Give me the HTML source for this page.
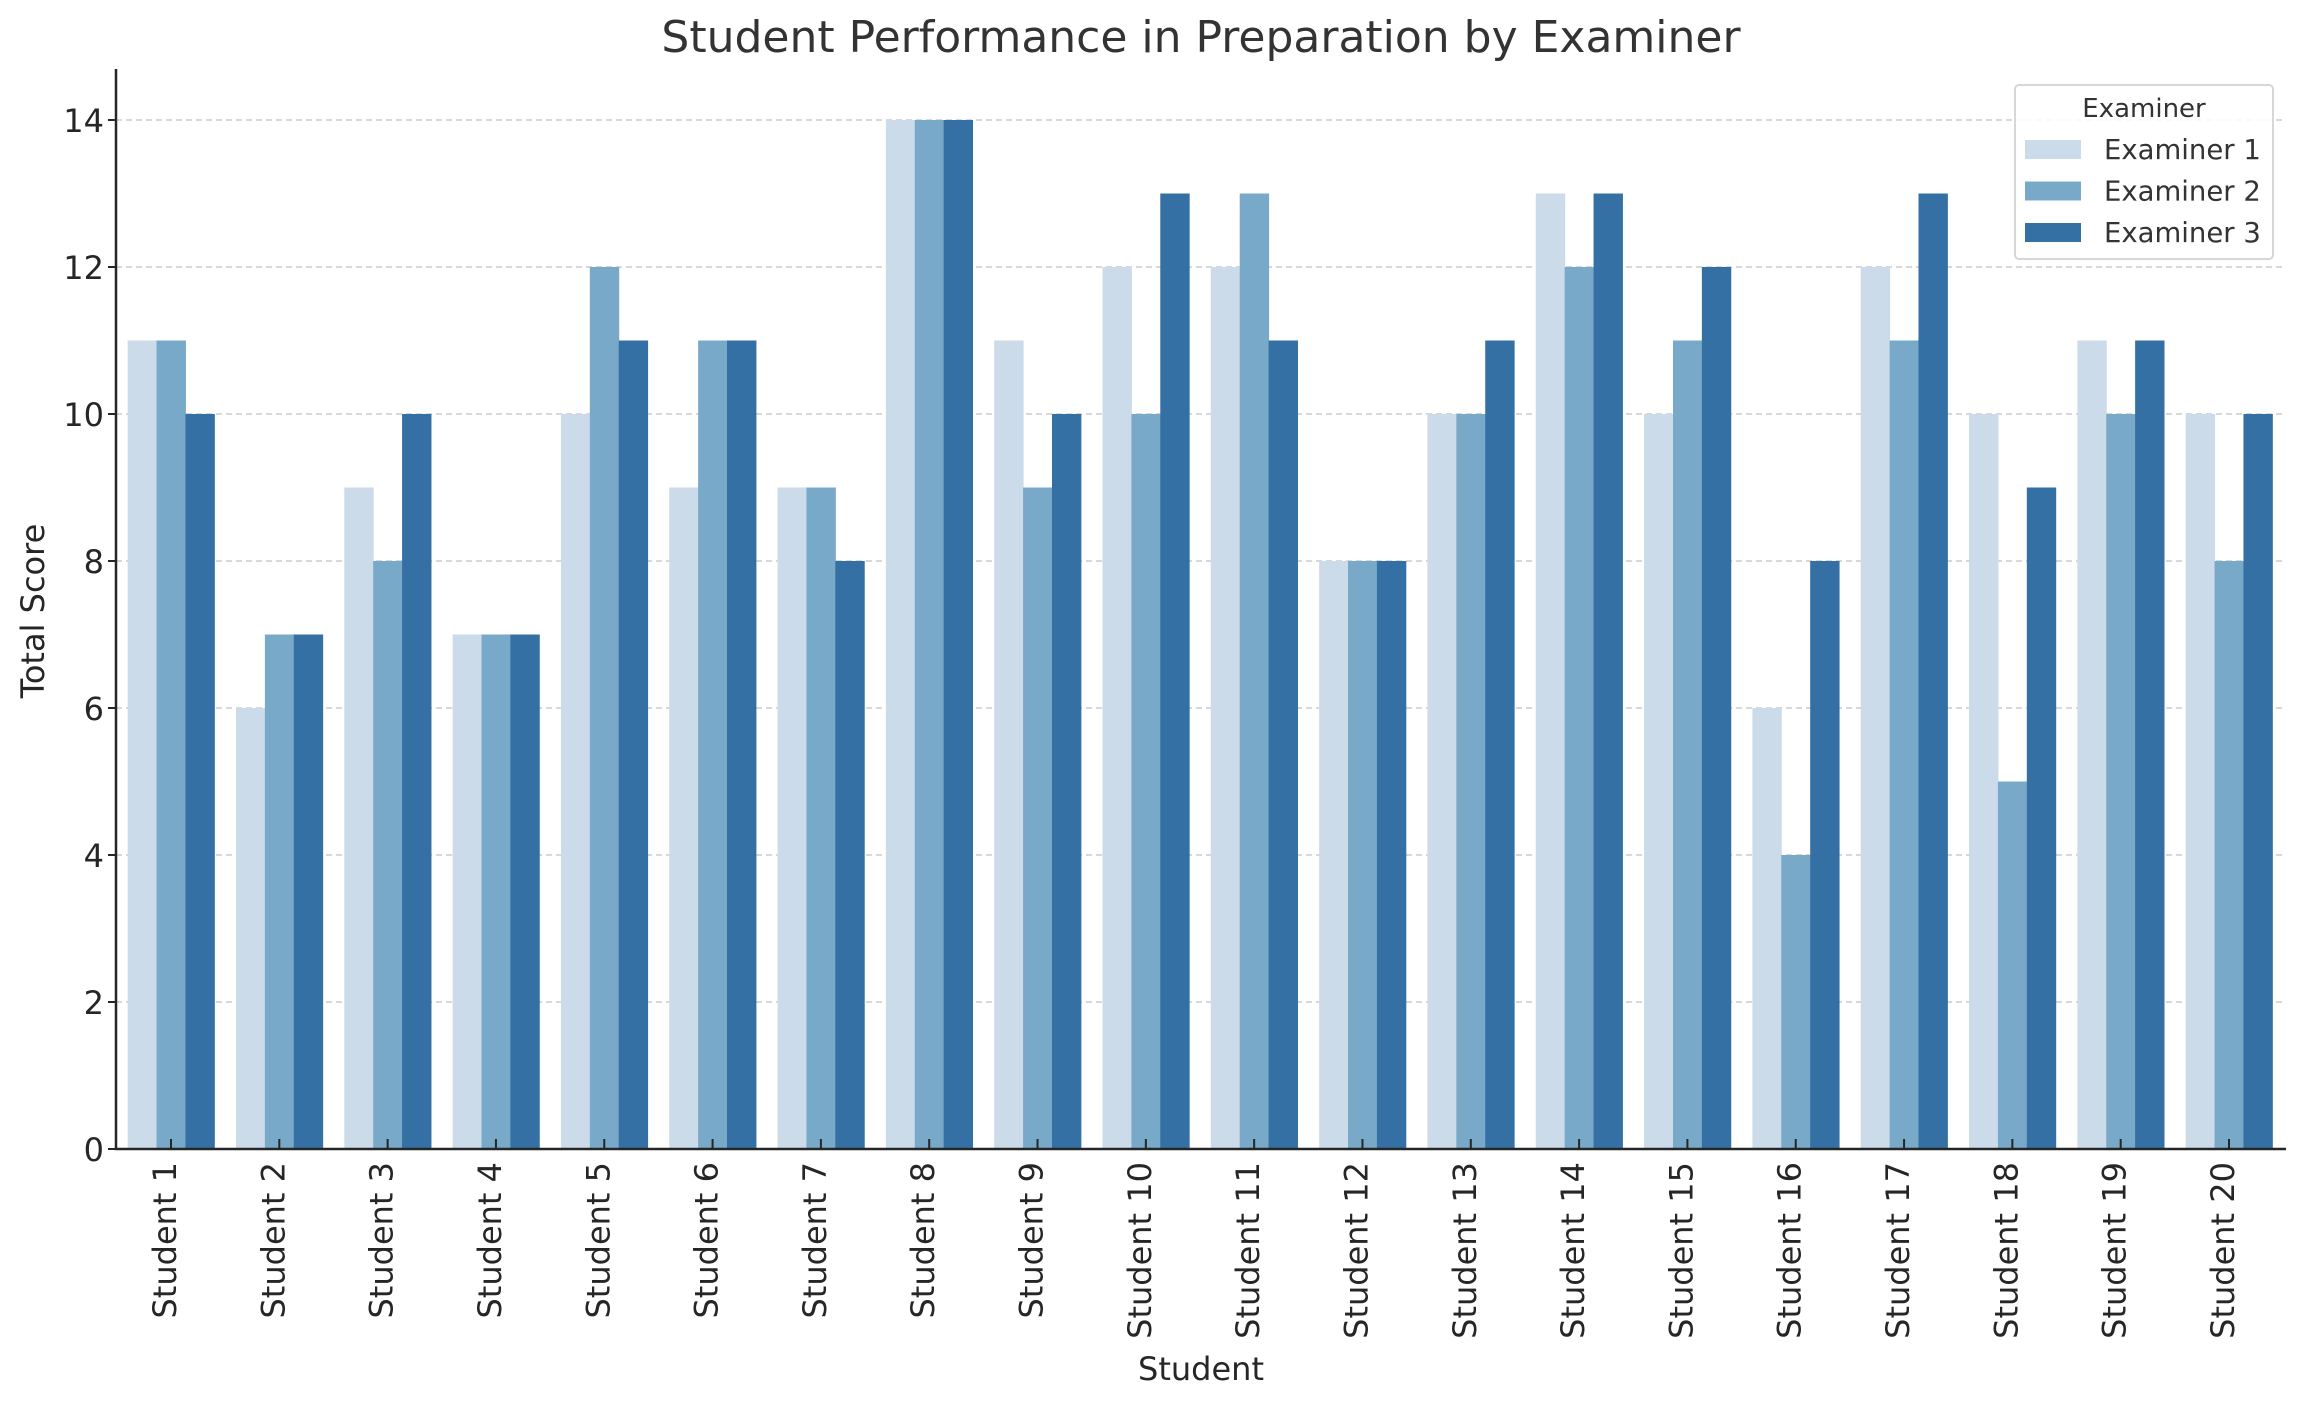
<!DOCTYPE html>
<html><head><meta charset="utf-8"><style>
body{margin:0;background:#fff}
svg{display:block;font-family:"DejaVu Sans","Liberation Sans",sans-serif}
</style></head><body>
<svg id="chart" width="2306" height="1406" xmlns="http://www.w3.org/2000/svg">
<text x="1201" y="52" text-anchor="middle" font-size="44" fill="#333">Student Performance in Preparation by Examiner</text>
<text transform="translate(44,611) rotate(-90)" text-anchor="middle" font-size="32" fill="#262626">Total Score</text>
<text x="1201" y="1380" text-anchor="middle" font-size="32" fill="#262626">Student</text>
<g id="grid"></g><g id="bars"></g><g id="axes"></g><g id="legend"></g>
</svg>
<script>
const categories=["Student 1","Student 2","Student 3","Student 4","Student 5","Student 6","Student 7","Student 8","Student 9","Student 10","Student 11","Student 12","Student 13","Student 14","Student 15","Student 16","Student 17","Student 18","Student 19","Student 20"];
const examiner1=[11,6,9,7,10,9,9,14,11,12,12,8,10,13,10,6,12,10,11,10];
const examiner2=[11,7,8,7,12,11,9,14,9,10,13,8,10,12,11,4,11,5,10,8];
const examiner3=[10,7,10,7,11,11,8,14,10,13,11,8,11,13,12,8,13,9,11,10];
const seriesNames=["Examiner 1","Examiner 2","Examiner 3"];
const yTicks=[0,2,4,6,8,10,12,14];
const colors=["#cbdbea","#78a9c9","#3470a3"];
const series=[examiner1,examiner2,examiner3];
const NS="http://www.w3.org/2000/svg";
const L=116,R=2286,T=69,B=1149;
const x=i=>171+(i)*((2229-171)/19);
const y=v=>B-v*73.5;
const step=(2229-171)/19, gw=step*0.8, bw=gw/3;
function mk(tag,attrs,parent){const e=document.createElementNS(NS,tag);for(const k in attrs)e.setAttribute(k,attrs[k]);parent.appendChild(e);return e;}
const grid=document.getElementById('grid'),bars=document.getElementById('bars'),axes=document.getElementById('axes'),leg=document.getElementById('legend');
yTicks.forEach(t=>{
 if(t>0){const g=mk('line',{x1:L,x2:R,y1:y(t),y2:y(t),stroke:'#cccccc','stroke-width':1.5,'stroke-dasharray':'6,4'},grid);
 
 }
 const tk=mk('line',{x1:L-8,x2:L,y1:y(t),y2:y(t),stroke:'#262626','stroke-width':2},axes);
 
 
 const tx=mk('text',{x:L-12,y:y(t)+12,'text-anchor':'end','font-size':32,fill:'#262626'},axes);tx.textContent=t;
 
 
});
categories.forEach((c,i)=>{
 series.forEach((s,j)=>{
  const r=mk('rect',{x:x(i)-gw/2+j*bw,y:y(s[i]),width:bw+0.5,height:B-y(s[i]),fill:colors[j]},bars);
  
  
 });
 const tk=mk('line',{x1:x(i),x2:x(i),y1:B-10,y2:B,stroke:'#262626','stroke-width':2},axes);
 
 
 const tx=mk('text',{transform:`translate(${x(i)+5},${B+13}) rotate(-90)`,'text-anchor':'end','font-size':32,fill:'#262626'},axes);tx.textContent=c;
 
 
});
const sp=mk('path',{d:`M${L},${T}V${B}H${R}`,fill:'none',stroke:'#262626','stroke-width':2.5},axes);


const box=mk('rect',{x:2015,y:85,width:258,height:174,rx:4,fill:'#fff','fill-opacity':0.85,stroke:'#d6d6d6','stroke-width':2},leg);


const lt=mk('text',{x:2144,y:117,'text-anchor':'middle','font-size':26,fill:'#333'},leg);lt.textContent='Examiner';


seriesNames.forEach((n,j)=>{
 const cy=149+j*41.5;
 const p=mk('rect',{x:2025,y:cy-9,width:56,height:19,fill:colors[j]},leg);
 
 
 const t=mk('text',{x:2104,y:cy+10,'font-size':27.5,fill:'#333'},leg);t.textContent=n;
 
 
});
</script>
</body></html>
